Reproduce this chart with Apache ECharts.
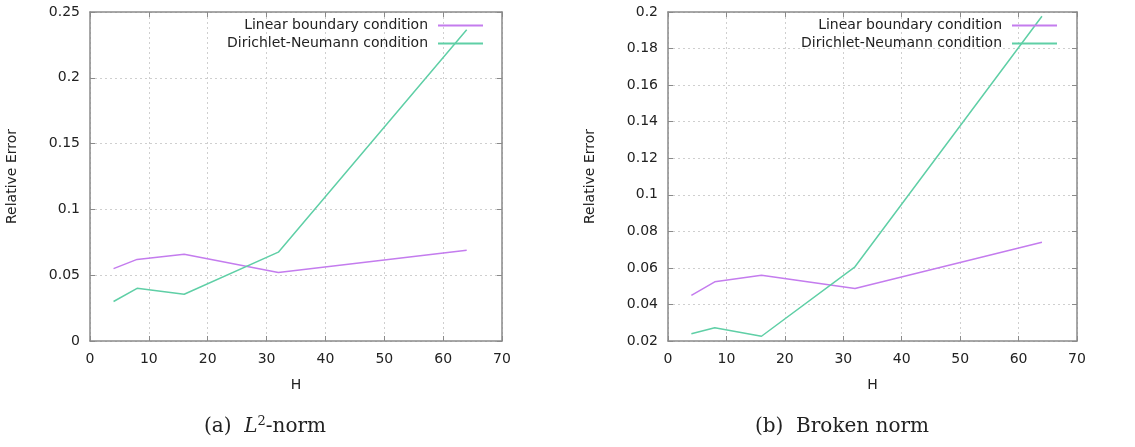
<!DOCTYPE html>
<html>
<head>
<meta charset="utf-8">
<script src="https://cdn.jsdelivr.net/npm/echarts@6/dist/echarts.min.js"></script>
<style>
  html, body { margin: 0; padding: 0; background: #fff; }
  #target { width: 1135px; height: 447px; }
</style>
</head>
<body>
<div id="target"></div>
<script>
  // H values (x axis)
  const hValues = [4, 8, 16, 32, 64]
  // (a) L2-norm
  const l2Linear = [0.055, 0.062, 0.066, 0.052, 0.069]
  const l2Dirichlet = [0.030, 0.040, 0.0355, 0.0675, 0.2365]
  // (b) Broken norm
  const brokenLinear = [0.045, 0.0524, 0.056, 0.0487, 0.074]
  const brokenDirichlet = [0.024, 0.0273, 0.0226, 0.0606, 0.1977]
  const seriesNames = ['Linear boundary condition', 'Dirichlet-Neumann condition']

  const purple = '#c47cee'
  const green = '#5fcfa6'
  const font = 'DejaVu Sans'

  function pairs(ys) {
    return hValues.map((h, i) => [h, ys[i]])
  }
  function fmt(v) {
    return String(parseFloat(v.toFixed(2)))
  }

  const mChart = echarts.init(document.getElementById('target'))

  const grids = [
    {left: 90, top: 12, width: 412, height: 329},
    {left: 668, top: 12, width: 409, height: 329}
  ]

  function xAx(grid, pos) {
    return {
      type: 'value', gridIndex: grid, position: pos,
      min: 0, max: 70, interval: 10,
      axisLine: {show: true, onZero: false, lineStyle: {color: '#8a8a8a', width: 1.5}},
      axisTick: {show: true, inside: true, length: 5, lineStyle: {color: '#8a8a8a'}},
      axisLabel: {show: pos === 'bottom', color: '#222', fontFamily: font, fontSize: 14, margin: 11},
      splitLine: {show: pos === 'bottom', lineStyle: {type: [2, 3], color: '#cfcfcf'}},
      name: pos === 'bottom' ? 'H' : '',
      nameLocation: 'middle', nameGap: 37,
      nameTextStyle: {color: '#222', fontFamily: font, fontSize: 14}
    }
  }
  function yAx(grid, pos, min, max, step) {
    return {
      type: 'value', gridIndex: grid, position: pos,
      min: min, max: max, interval: step,
      axisLine: {show: true, onZero: false, lineStyle: {color: '#8a8a8a', width: 1.5}},
      axisTick: {show: true, inside: true, length: 5, lineStyle: {color: '#8a8a8a'}},
      axisLabel: {show: pos === 'left', color: '#222', fontFamily: font, fontSize: 14, margin: 10, formatter: fmt},
      splitLine: {show: pos === 'left', lineStyle: {type: [2, 3], color: '#cfcfcf'}},
      name: pos === 'left' ? 'Relative Error' : '',
      nameLocation: 'middle', nameGap: 71,
      nameTextStyle: {color: '#222', fontFamily: font, fontSize: 14}
    }
  }

  function line(name, color, xi, data) {
    return {
      name: name, type: 'line', xAxisIndex: xi, yAxisIndex: xi === 0 ? 0 : 2,
      data: pairs(data), symbol: 'none', silent: true, animation: false,
      lineStyle: {color: color, width: 1.5}, itemStyle: {color: color}
    }
  }

  function legend(right) {
    return {
      data: seriesNames, orient: 'vertical', align: 'right',
      right: right, top: 18, padding: 0, itemGap: 3,
      itemWidth: 45, itemHeight: 2, icon: 'rect',
      textStyle: {color: '#222', fontFamily: font, fontSize: 14, padding: [0, 5, 0, 0], lineHeight: 15}
    }
  }

  const option = {
    animation: false,
    grid: grids,
    legend: [legend(1135 - 483), legend(1135 - 1057)],
    xAxis: [xAx(0, 'bottom'), xAx(0, 'top'), xAx(1, 'bottom'), xAx(1, 'top')],
    yAxis: [
      yAx(0, 'left', 0, 0.25, 0.05), yAx(0, 'right', 0, 0.25, 0.05),
      yAx(1, 'left', 0.02, 0.2, 0.02), yAx(1, 'right', 0.02, 0.2, 0.02)
    ],
    series: [
      line(seriesNames[0], purple, 0, l2Linear),
      line(seriesNames[1], green, 0, l2Dirichlet),
      line(seriesNames[0], purple, 2, brokenLinear),
      line(seriesNames[1], green, 2, brokenDirichlet)
    ],
    graphic: [
      {
        type: 'text', x: 265, y: 427,
        style: {
          text: '{n|(a)  }{i|L}{s|2}{n|-norm}',
          align: 'center', verticalAlign: 'middle',
          rich: {
            n: {fontFamily: 'DejaVu Serif', fontSize: 20, fill: '#222', lineHeight: 24},
            i: {fontFamily: 'DejaVu Serif', fontStyle: 'italic', fontSize: 20, fill: '#222', lineHeight: 24},
            s: {fontFamily: 'DejaVu Serif', fontSize: 13, fill: '#222', verticalAlign: 'top', lineHeight: 14}
          }
        }
      },
      {
        type: 'text', x: 842, y: 427,
        style: {
          text: '(b)  Broken norm', align: 'center', verticalAlign: 'middle',
          fontFamily: 'DejaVu Serif', fontSize: 20, fill: '#222'
        }
      }
    ]
  }
  mChart.setOption(option)
  window.addEventListener('resize', function() {
    mChart.resize()
  })
</script>
</body>
</html>
